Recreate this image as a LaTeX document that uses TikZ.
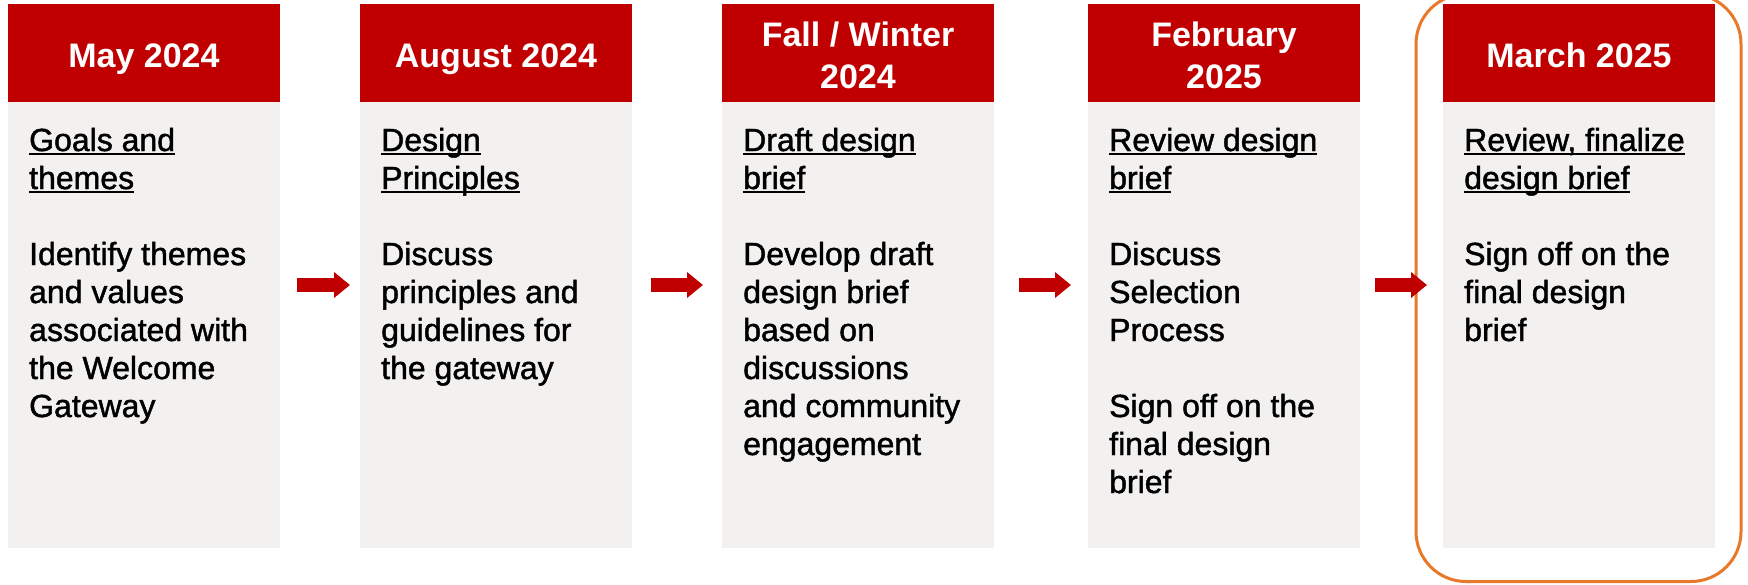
\documentclass[tikz,border=0pt]{standalone}
\usepackage{fontspec}
\setmainfont{Liberation Sans}
\newfontfamily{\notefont}{Liberation Sans}[FakeBold=1.4]
\usetikzlibrary{arrows.meta}
\definecolor{hdred}{HTML}{C00000}
\definecolor{bodygray}{HTML}{F2F1F0}
\definecolor{ringorange}{HTML}{E8782A}
\newcommand{\undl}[1]{\setbox0\hbox{#1}\rlap{\rule[-4.3pt]{\wd0}{1.9pt}}\box0}

\begin{document}
\begin{tikzpicture}[x=1pt,y=-1pt]
  \def\w{272}
  \def\ly{285}

\tikzstyle{head}=[fill=hdred,minimum width=\w pt,minimum height=98pt,inner sep=0pt,anchor=north west]
\tikzstyle{body}=[fill=bodygray,minimum width=\w pt,minimum height=446pt,inner sep=0pt,anchor=north west]
\tikzstyle{date}=[text=white,font=\bfseries\fontsize{34}{42}\selectfont,align=center,anchor=base,inner sep=0pt]
\tikzstyle{note}=[font=\notefont\fontsize{32}{38}\selectfont,align=left,anchor=base west,inner sep=0pt]
\tikzstyle{flow}=[draw=hdred,line width=14pt,-{Triangle[width=25pt,length=16pt]}]
\useasboundingbox (0,0) rectangle (1748,584);

% May 2024
\node[head] (h1) at (8,4) {};
\node[body] (b1) at (8,102) {};
\node[date] (d1) at (144,67) {May 2024};
\node[note] (t1) at (29,189) {\undl{Goals and}\\\undl{themes}};
\node[note] (n1) at (29,417) {Identify themes\\and values\\associated with\\the Welcome\\Gateway};
% August 2024
\node[head] (h2) at (360,4) {};
\node[body] (b2) at (360,102) {};
\node[date] (d2) at (496,67) {August 2024};
\node[note] (t2) at (381,189) {\undl{Design}\\\undl{Principles}};
\node[note] (n2) at (381,379) {Discuss\\principles and\\guidelines for\\the gateway};
% Fall / Winter 2024
\node[head] (h3) at (722,4) {};
\node[body] (b3) at (722,102) {};
\node[date] (d3) at (858,88) {Fall / Winter\\2024};
\node[note] (t3) at (743,189) {\undl{Draft design}\\\undl{brief}};
\node[note] (n3) at (743,455) {Develop draft\\design brief\\based on\\discussions\\and community\\engagement};
% February 2025
\node[head] (h4) at (1088,4) {};
\node[body] (b4) at (1088,102) {};
\node[date] (d4) at (1224,88) {February\\2025};
\node[note] (t4) at (1109,189) {\undl{Review design}\\\undl{brief}};
\node[note] (n4) at (1109,493) {Discuss\\Selection\\Process\\[38pt]Sign off on the\\final design\\brief};
% March 2025
\node[head] (h5) at (1443,4) {};
\node[body] (b5) at (1443,102) {};
\node[date] (d5) at (1579,67) {March 2025};
\node[note] (t5) at (1464,189) {\undl{Review, finalize}\\\undl{design brief}};
\node[note] (n5) at (1464,341) {Sign off on the\\final design\\brief};

\draw[ringorange,line width=3pt,rounded corners=50pt] (1416,-6) rectangle (1741,581.5);

\draw[flow,shorten <=17pt,shorten >=10pt] (b1.east |- 0,\ly) -- (b2.west |- 0,\ly);
\draw[flow,shorten <=19pt,shorten >=19pt] (b2.east |- 0,\ly) -- (b3.west |- 0,\ly);
\draw[flow,shorten <=25pt,shorten >=17pt] (b3.east |- 0,\ly) -- (b4.west |- 0,\ly);
\draw[flow,shorten <=15pt,shorten >=16pt] (b4.east |- 0,\ly) -- (b5.west |- 0,\ly);
\end{tikzpicture}
\end{document}
